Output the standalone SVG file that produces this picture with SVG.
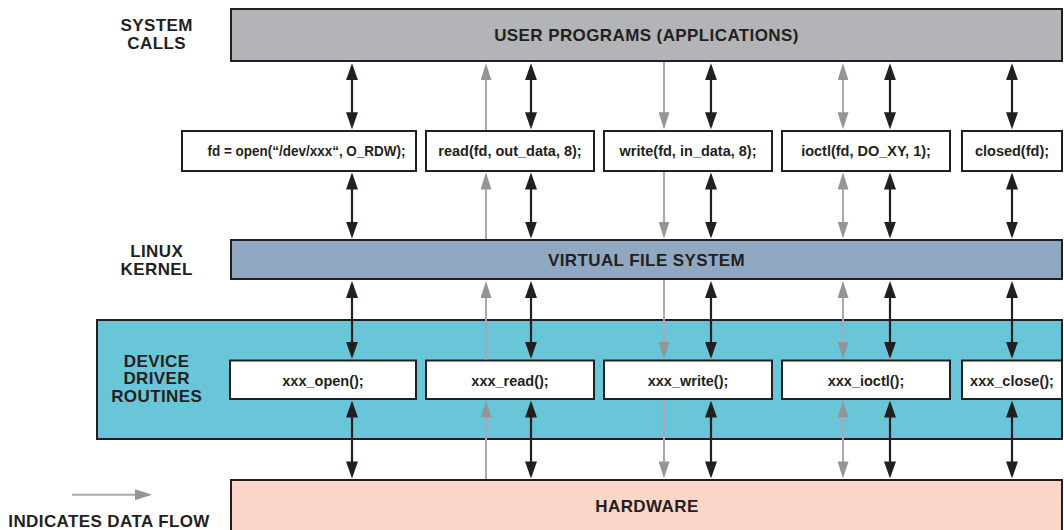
<svg xmlns="http://www.w3.org/2000/svg" width="1064" height="530" viewBox="0 0 1064 530">
  <style>
    .box { stroke: #231f20; stroke-width: 2; }
    .white { fill: #ffffff; }
    .lbl { font-family: "Liberation Sans", Arial, sans-serif; font-weight: bold; font-size: 17px; letter-spacing: 0.4px; fill: #231f20; text-anchor: middle; }
    .fn { font-family: "Liberation Sans", Arial, sans-serif; font-weight: bold; font-size: 14.5px; fill: #231f20; text-anchor: middle; }
    .blk { stroke: #231f20; stroke-width: 2.2; fill: none; marker-start: url(#ahB); marker-end: url(#ahB); }
    .gboth { stroke: #a7a9ac; stroke-width: 2; fill: none; marker-start: url(#ahG); marker-end: url(#ahG); }
    .gone { stroke: #a7a9ac; stroke-width: 2; fill: none; marker-end: url(#ahG); }
  </style>
  <defs>
    <marker id="ahB" viewBox="0 0 17 12" refX="14" refY="6" markerWidth="17" markerHeight="12" markerUnits="userSpaceOnUse" orient="auto-start-reverse">
      <path d="M0,0 L17,6 L0,12 z" fill="#231f20"/>
    </marker>
    <marker id="ahG" viewBox="0 0 17 11" refX="14" refY="5.5" markerWidth="17" markerHeight="11" markerUnits="userSpaceOnUse" orient="auto-start-reverse">
      <path d="M0,0 L17,5.5 L0,11 z" fill="#939598"/>
    </marker>
  </defs>
  <rect width="1064" height="530" fill="#ffffff"/>

  <!-- side labels -->
  <g id="label-system-calls">
    <text class="lbl" x="156.7" y="30.7">SYSTEM</text>
    <text class="lbl" x="156.7" y="49">CALLS</text>
  </g>
  <g id="label-linux-kernel">
    <text class="lbl" x="156.7" y="256.7">LINUX</text>
    <text class="lbl" x="156.7" y="275">KERNEL</text>
  </g>

  <!-- layers -->
  <g id="user-programs">
    <rect class="box" x="231" y="9" width="831" height="52" fill="#b2b4b7"/>
    <text class="lbl" x="646.5" y="40.5">USER PROGRAMS (APPLICATIONS)</text>
  </g>

  <g id="call-open">
    <rect class="box white" x="182" y="131" width="234" height="40"/>
    <text class="fn" x="306.5" y="156" textLength="198" lengthAdjust="spacingAndGlyphs">fd = open(“/dev/xxx“, O_RDW);</text>
  </g>
  <g id="call-read">
    <rect class="box white" x="426" y="131" width="168" height="40"/>
    <text class="fn" x="510" y="156">read(fd, out_data, 8);</text>
  </g>
  <g id="call-write">
    <rect class="box white" x="604" y="131" width="168" height="40"/>
    <text class="fn" x="688" y="156">write(fd, in_data, 8);</text>
  </g>
  <g id="call-ioctl">
    <rect class="box white" x="782" y="131" width="168" height="40"/>
    <text class="fn" x="866" y="156">ioctl(fd, DO_XY, 1);</text>
  </g>
  <g id="call-close">
    <rect class="box white" x="962" y="131" width="100" height="40"/>
    <text class="fn" x="1012" y="156">closed(fd);</text>
  </g>

  <g id="virtual-file-system">
    <rect class="box" x="231" y="240" width="831" height="39" fill="#91a8c3"/>
    <text class="lbl" x="646.5" y="265.7">VIRTUAL FILE SYSTEM</text>
  </g>

  <g id="device-driver-routines">
    <rect class="box" x="97" y="320" width="965" height="119" fill="#69c6d8"/>
    <text class="lbl" x="156.7" y="366.7">DEVICE</text>
    <text class="lbl" x="156.7" y="384.3">DRIVER</text>
    <text class="lbl" x="156.7" y="402.3">ROUTINES</text>
  </g>
  <g id="xxx-open">
    <rect class="box white" x="230" y="360.5" width="186" height="38.5"/>
    <text class="fn" x="323" y="385.7">xxx_open();</text>
  </g>
  <g id="xxx-read">
    <rect class="box white" x="426" y="360.5" width="168" height="38.5"/>
    <text class="fn" x="510" y="385.7">xxx_read();</text>
  </g>
  <g id="xxx-write">
    <rect class="box white" x="604" y="360.5" width="168" height="38.5"/>
    <text class="fn" x="688" y="385.7">xxx_write();</text>
  </g>
  <g id="xxx-ioctl">
    <rect class="box white" x="782" y="360.5" width="168" height="38.5"/>
    <text class="fn" x="866" y="385.7">xxx_ioctl();</text>
  </g>
  <g id="xxx-close">
    <rect class="box white" x="962" y="360.5" width="100" height="38.5"/>
    <text class="fn" x="1012" y="385.7">xxx_close();</text>
  </g>

  <g id="hardware">
    <rect class="box" x="231" y="480" width="831" height="60" fill="#fbd6c8"/>
    <text class="lbl" x="647" y="512">HARDWARE</text>
  </g>

  <!-- connectors -->
  <g id="connectors">
    <!-- open -->
    <line class="blk" x1="352" y1="66.3" x2="352" y2="126.3"/>
    <line class="blk" x1="352" y1="175.5" x2="352" y2="235.5"/>
    <line class="blk" x1="352" y1="284" x2="352" y2="355.8"/>
    <line class="blk" x1="352" y1="403.6" x2="352" y2="475.4"/>
    <!-- read: data flow up -->
    <line class="gone" x1="486" y1="130" x2="486" y2="66.3"/>
    <line class="gone" x1="486" y1="239" x2="486" y2="175.5"/>
    <line class="gone" x1="486" y1="359.5" x2="486" y2="284"/>
    <line class="gone" x1="486" y1="479" x2="486" y2="403.6"/>
    <line class="blk" x1="531" y1="66.3" x2="531" y2="126.3"/>
    <line class="blk" x1="531" y1="175.5" x2="531" y2="235.5"/>
    <line class="blk" x1="531" y1="284" x2="531" y2="355.8"/>
    <line class="blk" x1="531" y1="403.6" x2="531" y2="475.4"/>
    <!-- write: data flow down -->
    <line class="gone" x1="664" y1="62" x2="664" y2="126.3"/>
    <line class="gone" x1="664" y1="172" x2="664" y2="235.5"/>
    <line class="gone" x1="664" y1="280" x2="664" y2="355.8"/>
    <line class="gone" x1="664" y1="400" x2="664" y2="475.4"/>
    <line class="blk" x1="711" y1="66.3" x2="711" y2="126.3"/>
    <line class="blk" x1="711" y1="175.5" x2="711" y2="235.5"/>
    <line class="blk" x1="711" y1="284" x2="711" y2="355.8"/>
    <line class="blk" x1="711" y1="403.6" x2="711" y2="475.4"/>
    <!-- ioctl: data flow both ways -->
    <line class="gboth" x1="843" y1="66.3" x2="843" y2="126.3"/>
    <line class="gboth" x1="843" y1="175.5" x2="843" y2="235.5"/>
    <line class="gboth" x1="843" y1="284" x2="843" y2="355.8"/>
    <line class="gboth" x1="843" y1="403.6" x2="843" y2="475.4"/>
    <line class="blk" x1="890" y1="66.3" x2="890" y2="126.3"/>
    <line class="blk" x1="890" y1="175.5" x2="890" y2="235.5"/>
    <line class="blk" x1="890" y1="284" x2="890" y2="355.8"/>
    <line class="blk" x1="890" y1="403.6" x2="890" y2="475.4"/>
    <!-- close -->
    <line class="blk" x1="1012" y1="66.3" x2="1012" y2="126.3"/>
    <line class="blk" x1="1012" y1="175.5" x2="1012" y2="235.5"/>
    <line class="blk" x1="1012" y1="284" x2="1012" y2="355.8"/>
    <line class="blk" x1="1012" y1="403.6" x2="1012" y2="475.4"/>
  </g>

  <!-- legend -->
  <g id="legend">
    <line class="gone" x1="72" y1="494.7" x2="149" y2="494.7"/>
    <text class="lbl" x="8.3" y="526.7" style="text-anchor:start">INDICATES DATA FLOW</text>
  </g>
</svg>
